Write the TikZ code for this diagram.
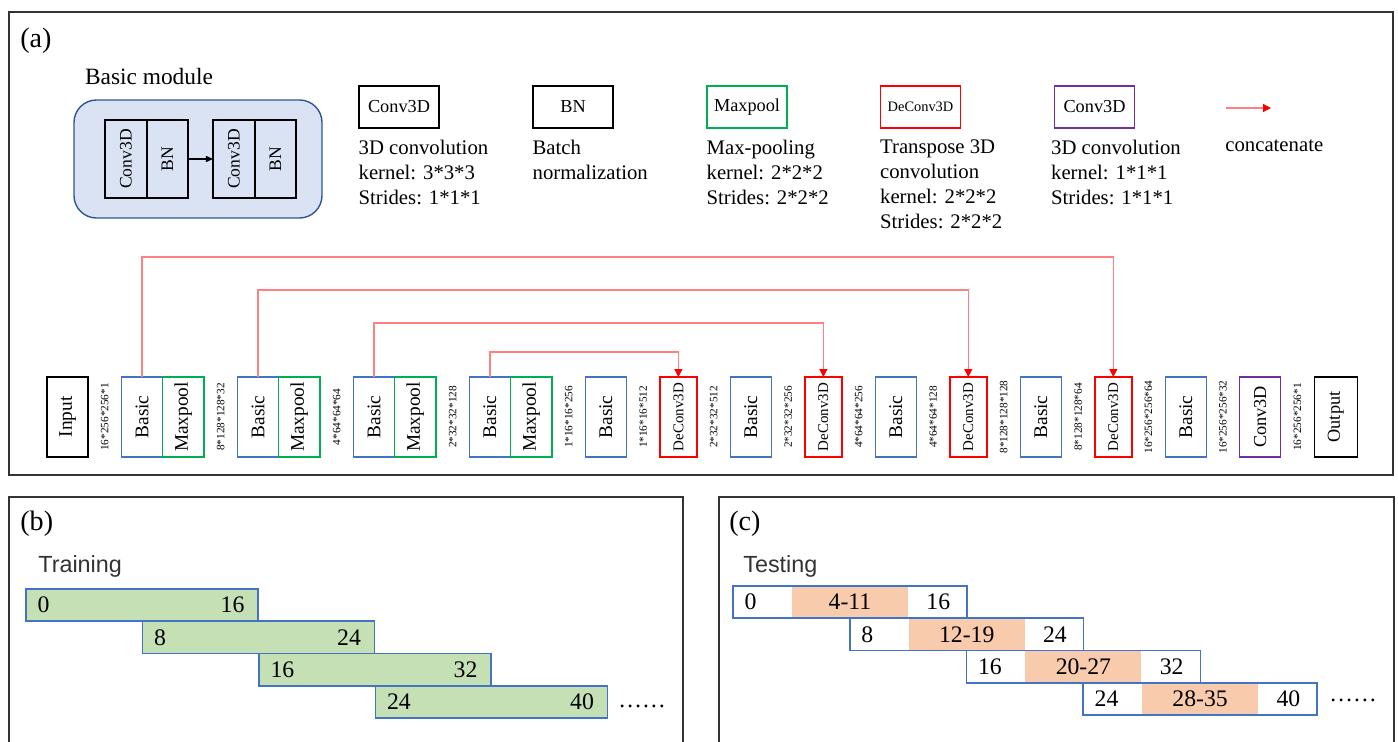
\documentclass[tikz,border=0pt]{standalone}
\usepackage{fontspec}
\setmainfont{Liberation Serif}
\newfontfamily\labelsans{Liberation Sans}
\usepackage{graphicx}
\usetikzlibrary{arrows.meta, positioning, calc}
\definecolor{BasicBlue}{HTML}{4472C4}
\definecolor{PoolGreen}{HTML}{00B050}
\definecolor{DeconvRed}{HTML}{FF0000}
\definecolor{OutPurple}{HTML}{7030A0}
\definecolor{ModFill}{HTML}{DAE3F3}
\definecolor{ModLine}{HTML}{2F5597}
\definecolor{TrainGreen}{HTML}{C5E0B4}
\definecolor{TestOrange}{HTML}{F8CBAD}
\newcommand{\rotlabel}[1]{\rotatebox{90}{#1}}

\begin{document}
\begin{tikzpicture}[x=0.02cm, y=-0.02cm,
  blk/.style={draw, line width=0.8pt, outer sep=0pt, minimum width=0.82cm, minimum height=1.6cm,
              inner sep=0pt, font=\fontsize{11}{13}\selectfont},
  basic/.style={blk, draw=BasicBlue},
  pool/.style={blk, draw=PoolGreen, minimum width=0.83cm},
  deconv/.style={blk, draw=DeconvRed, minimum width=0.74cm, font=\fontsize{8.5}{10}\selectfont},
  io/.style={blk, draw=black},
  dim/.style={inner sep=0pt, font=\fontsize{6.4}{7}\selectfont},
  cat/.style={-{Triangle[length=4.5pt, width=4.5pt, color=red]}, draw=red!50, line width=0.7pt},
  legbox/.style={draw, line width=0.8pt, minimum width=1.6cm, minimum height=0.84cm,
                 inner sep=0pt, font=\fontsize{10.4}{12}\selectfont},
  desc/.style={inner sep=0pt, align=left, font=\fontsize{11.8}{14.2}\selectfont},
  modpart/.style={draw, line width=0.8pt, outer sep=0pt, minimum width=0.82cm, minimum height=1.56cm,
                  inner sep=0pt, font=\fontsize{10}{12}\selectfont},
  panel/.style={draw=black!80, line width=0.75pt},
  tag/.style={anchor=base west, inner sep=0pt, font=\fontsize{16}{19}\selectfont},
  phase/.style={anchor=base west, inner sep=0pt, text=black!80,
                font=\labelsans\fontsize{13.3}{16}\selectfont},
  slab/.style={draw=BasicBlue, line width=0.9pt, minimum width=4.64cm,
               minimum height=0.646cm, inner sep=0pt},
  num/.style={inner sep=0pt, font=\fontsize{13.5}{16}\selectfont}]
  \useasboundingbox (0,0) rectangle (1398,742);

  \draw[panel] (9,12) rectangle (1393,475);
  \node[tag] (ta) at (20,48) {(a)};
  \node[font=\fontsize{13.3}{16}\selectfont] (modtitle) at (149,77) {Basic module};
  \draw[ModLine, fill=ModFill, rounded corners=0.45cm, line width=0.8pt] (74,100) rectangle (322,218);
  \node[modpart, minimum width=0.84cm] (mc1) at (126,159) {\rotlabel{Conv3D}};
  \node[modpart, right=0pt of mc1] (mb1) {\rotlabel{BN}};
  \node[modpart, minimum width=0.84cm, right=0.5cm of mb1] (mc2) {\rotlabel{Conv3D}};
  \node[modpart, right=0pt of mc2] (mb2) {\rotlabel{BN}};
  \draw[-{Triangle[length=4pt, width=3.5pt]}, line width=0.6pt] (mb1) -- (mc2);

  \node[legbox] (kconv) at (399,107) {Conv3D};
  \node[desc, below=0.22cm of kconv.south west, anchor=north west] (tconv)
    {3D convolution\\kernel: 3*3*3\\Strides: 1*1*1};
  \node[legbox] (kbn) at (573,107) {BN};
  \node[desc, below=0.22cm of kbn.south west, anchor=north west] (tbn)
    {Batch\\normalization};
  \node[legbox, draw=PoolGreen] (kpool) at (747,107) {Maxpool};
  \node[desc, below=0.22cm of kpool.south west, anchor=north west] (tpool)
    {Max-pooling\\kernel: 2*2*2\\Strides: 2*2*2};
  \node[legbox, draw=DeconvRed, font=\fontsize{8.2}{10}\selectfont] (kdeconv) at (920.5,107) {DeConv3D};
  \node[desc, below=0.22cm of kdeconv.south west, anchor=north west] (tdeconv)
    {Transpose 3D\\convolution\\kernel: 2*2*2\\Strides: 2*2*2};
  \node[legbox, draw=OutPurple] (kout) at (1094.5,107) {Conv3D};
  \node[desc, below=0.22cm of kout.south west, anchor=north west, xshift=-0.06cm] (tout)
    {3D convolution\\kernel: 1*1*1\\Strides: 1*1*1};
  \coordinate (ka) at (1226,108);
  \coordinate (kb) at (1271,108);
  \draw[cat] (ka) -- (kb);
  \node[desc, anchor=base west] (tcat) at (1225,152) {concatenate};

  \node[io] (in) at (67.5,417) {\rotlabel{Input}};
  \node[basic, right=0.67cm of in] (b1) {\rotlabel{Basic}};
  \node[pool, right=0pt of b1] (p1) {\rotlabel{Maxpool}};
  \node[basic, right=0.67cm of p1] (b2) {\rotlabel{Basic}};
  \node[pool, right=0pt of b2] (p2) {\rotlabel{Maxpool}};
  \node[basic, right=0.67cm of p2] (b3) {\rotlabel{Basic}};
  \node[pool, right=0pt of b3] (p3) {\rotlabel{Maxpool}};
  \node[basic, right=0.67cm of p3] (b4) {\rotlabel{Basic}};
  \node[pool, right=0pt of b4] (p4) {\rotlabel{Maxpool}};
  \node[basic, right=0.67cm of p4] (b5) {\rotlabel{Basic}};
  \node[deconv, right=0.67cm of b5] (u1) {\rotlabel{DeConv3D}};
  \node[basic, right=0.67cm of u1] (b6) {\rotlabel{Basic}};
  \node[deconv, right=0.67cm of b6] (u2) {\rotlabel{DeConv3D}};
  \node[basic, right=0.67cm of u2] (b7) {\rotlabel{Basic}};
  \node[deconv, right=0.67cm of b7] (u3) {\rotlabel{DeConv3D}};
  \node[basic, right=0.67cm of u3] (b8) {\rotlabel{Basic}};
  \node[deconv, right=0.67cm of b8] (u4) {\rotlabel{DeConv3D}};
  \node[basic, right=0.67cm of u4] (b9) {\rotlabel{Basic}};
  \node[blk, draw=OutPurple, font=\fontsize{10.4}{12}\selectfont, right=0.67cm of b9] (cv) {\rotlabel{Conv3D}};
  \node[io, minimum width=0.86cm, font=\fontsize{10.4}{12}\selectfont, right=0.67cm of cv] (out) {\rotlabel{Output}};

  \node[dim] (s1) at ($(in.east)!0.5!(b1.west)$) {\rotlabel{16*256*256*1}};
  \node[dim] (s2) at ($(p1.east)!0.5!(b2.west)$) {\rotlabel{8*128*128*32}};
  \node[dim] (s3) at ($(p2.east)!0.5!(b3.west)$) {\rotlabel{4*64*64*64}};
  \node[dim] (s4) at ($(p3.east)!0.5!(b4.west)$) {\rotlabel{2*32*32*128}};
  \node[dim] (s5) at ($(p4.east)!0.5!(b5.west)$) {\rotlabel{1*16*16*256}};
  \node[dim] (s6) at ($(b5.east)!0.5!(u1.west)$) {\rotlabel{1*16*16*512}};
  \node[dim] (s7) at ($(u1.east)!0.5!(b6.west)$) {\rotlabel{2*32*32*512}};
  \node[dim] (s8) at ($(b6.east)!0.5!(u2.west)$) {\rotlabel{2*32*32*256}};
  \node[dim] (s9) at ($(u2.east)!0.5!(b7.west)$) {\rotlabel{4*64*64*256}};
  \node[dim] (s10) at ($(b7.east)!0.5!(u3.west)$) {\rotlabel{4*64*64*128}};
  \node[dim] (s11) at ($(u3.east)!0.5!(b8.west)$) {\rotlabel{8*128*128*128}};
  \node[dim] (s12) at ($(b8.east)!0.5!(u4.west)$) {\rotlabel{8*128*128*64}};
  \node[dim] (s13) at ($(u4.east)!0.5!(b9.west)$) {\rotlabel{16*256*256*64}};
  \node[dim] (s14) at ($(b9.east)!0.5!(cv.west)$) {\rotlabel{16*256*256*32}};
  \node[dim] (s15) at ($(cv.east)!0.5!(out.west)$) {\rotlabel{16*256*256*1}};

  \draw[cat] (b1.north) -- (b1.north |- 0,257) -| (u4.north);
  \draw[cat] (b2.north) -- (b2.north |- 0,290) -| (u3.north);
  \draw[cat] (b3.north) -- (b3.north |- 0,323) -| (u2.north);
  \draw[cat] (b4.north) -- (b4.north |- 0,352) -| (u1.north);

  \draw[panel] (9,497) rectangle (683,780);
  \node[tag] (tb) at (20,530) {(b)};
  \node[phase] (train) at (38,572) {Training};
  \foreach \i/\lo/\hi in {0/0/16, 1/8/24, 2/16/32, 3/24/40} {
    \node[slab, fill=TrainGreen] (tr\i) at (142+116.5*\i, 605+32.3*\i) {};
    \node[num, anchor=west] (tra\i) at ([xshift=0.24cm]tr\i.west) {\lo};
    \node[num, anchor=east] (trb\i) at ([xshift=-0.28cm]tr\i.east) {\hi};
  }
  \node[num, anchor=base west] (dotb) at (618,707) {……};

  \draw[panel] (719,497) rectangle (1394,780);
  \node[tag] (tc) at (729,530) {(c)};
  \node[phase] (test) at (743,572) {Testing};
  \foreach \i/\lo/\md/\hi in {0/0/4-11/16, 1/8/12-19/24, 2/16/20-27/32, 3/24/28-35/40} {
    \node[num, fill=TestOrange, minimum width=2.32cm, minimum height=0.646cm] (tm\i)
      at (850+116.7*\i, 602+32.3*\i) {\md};
    \node[slab, minimum width=4.68cm] (ts\i) at (tm\i) {};
    \node[num, anchor=west] (tsa\i) at ([xshift=0.24cm]ts\i.west) {\lo};
    \node[num] (tsb\i) at ([xshift=-0.59cm]ts\i.east) {\hi};
  }
  \node[num, anchor=base west] (dotc) at (1329,701) {……};
\end{tikzpicture}
\end{document}
